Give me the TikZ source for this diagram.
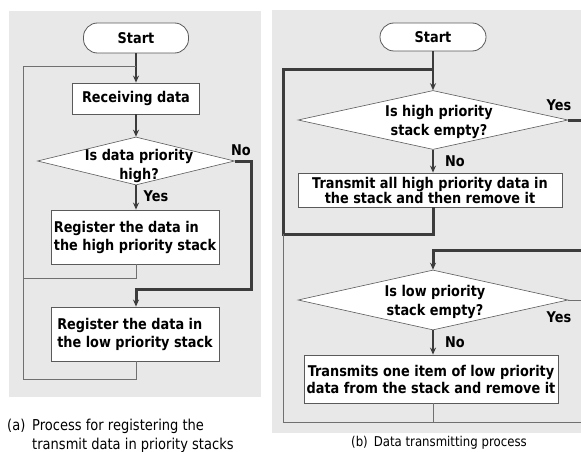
\documentclass[tikz,border=0pt]{standalone}
\usepackage{fontspec}
\setmainfont{DejaVu Sans}[FakeStretch=0.87]
\usetikzlibrary{shapes.geometric,arrows.meta}
\definecolor{panelbg}{HTML}{E8E8E8}
\definecolor{linedark}{HTML}{3C3C3C}
\definecolor{linelight}{HTML}{707070}
\definecolor{edgegray}{HTML}{5A5A5A}
\begin{document}
\begin{tikzpicture}[x=1pt,y=-1pt,
  panel/.style={fill=panelbg,draw=none},
  term/.style={draw=edgegray,fill=white,line width=0.8pt,rounded corners=14pt,inner sep=0pt,font=\bfseries\fontsize{14.8}{16}\selectfont},
  proc/.style={draw=edgegray,fill=white,line width=0.8pt,inner sep=0pt,font=\bfseries\fontsize{14.8}{18}\selectfont},
  dia/.style={diamond,draw=edgegray,fill=white,line width=0.6pt,inner sep=0pt},
  lbl/.style={inner sep=0pt,align=center,font=\bfseries\fontsize{14.8}{18.5}\selectfont},
  captext/.style={inner sep=0pt,align=left,font=\fontsize{15}{19}\selectfont},
  tip/.style={-{Stealth[length=7pt,width=6pt]}},
  flow/.style={draw=linedark,line width=2pt,tip},
  back/.style={draw=linedark,line width=3pt},
  thinline/.style={draw=linelight,line width=0.9pt}]
\useasboundingbox (0,0) rectangle (581,452);
\fill[white] (0,0) rectangle (581,452);

% ---------- (a) registering data ----------
\fill[panel] (9,11) rectangle (261,397);
\node[term,minimum width=105,minimum height=30] (sa) at (136,38) {Start};
\node[proc,minimum width=127,minimum height=31] (recv) at (136,98.5) {Receiving data};
\node[dia,minimum width=197,minimum height=48] (qa) at (136,161) {};
\node[lbl] (qat) at (139,166) {Is data priority\\high?};
\node[proc,minimum width=168,minimum height=54,align=left] (hiA) at (135,237) {Register the data in\\the high priority stack};
\node[proc,minimum width=168,minimum height=54,align=left] (loA) at (135,334) {Register the data in\\the low priority stack};

\coordinate (joinA) at (136,66);
\coordinate (leftA) at (23,379);
\coordinate (midA) at (23,278);
\coordinate (noA) at (251,289);

\draw[flow] (sa.south) -- (recv.north);
\draw[flow] (recv.south) -- (qa.north);
\draw[flow] (qa.south) -- (qa.south |- hiA.north);
\draw[back,tip] (qa.east) -| (noA) -| (qa.south |- loA.north);
\draw[thinline] (qa.south |- hiA.south) |- (midA);
\draw[thinline] (qa.south |- loA.south) |- (leftA) |- (joinA);

\node[lbl] (noLa) at (241,150) {No};
\node[lbl] (yesLa) at (156,196) {Yes};

% ---------- (b) transmitting data ----------
\fill[panel] (272,10) rectangle (590,433);
\node[term,minimum width=106,minimum height=28] (sb) at (433,37) {Start};
\node[dia,minimum width=270,minimum height=59] (qh) at (433,120) {};
\node[lbl] (qht) at (439,122) {Is high priority\\stack empty?};
\node[proc,minimum width=264,minimum height=34,align=center,font=\bfseries\fontsize{14.8}{15}\selectfont] (txh) at (430,190) {Transmit all high priority data in\\the stack and then remove it};
\node[dia,minimum width=270,minimum height=60] (ql) at (433,300) {};
\node[lbl] (qlt) at (435,302) {Is low priority\\stack empty?};
\node[proc,minimum width=254,minimum height=48,align=center,font=\bfseries\fontsize{14.8}{17}\selectfont] (txl) at (431,379) {Transmits one item of low priority\\data from the stack and remove it};

\coordinate (joinB) at (433,70);
\coordinate (leftB) at (283,234);
\coordinate (yesH) at (581,120);
\coordinate (backH) at (581,250);
\coordinate (yesL) at (581,300);
\coordinate (bottomB) at (581,422);

\draw[flow] (sb.south) -- (qh.north);
\draw[back] (txh.south -| sb.south) |- (leftB) |- (joinB);
\draw[back] (qh.east) -- (yesH);
\draw[back,tip] (backH) -| (ql.north);
\draw[thinline] (ql.east) -- (yesL);
\draw[flow] (qh.south) -- (qh.south |- txh.north);
\draw[flow] (ql.south) -- (ql.south |- txl.north);
\draw[thinline] (leftB) |- (bottomB);
\draw[thinline] (ql.south |- txl.south) -- (ql.south |- bottomB);

\node[lbl] (yesLh) at (559,105) {Yes};
\node[lbl] (noLh) at (455,161) {No};
\node[lbl] (yesLl) at (559,317) {Yes};
\node[lbl] (noLl) at (455,342) {No};

% ---------- captions ----------
\node[captext,anchor=north west] (capa) at (7,419) {(a)};
\node[captext,anchor=north west] (capa2) at (32,419) {Process for registering the\\transmit data in priority stacks};
\node[captext,anchor=north west,font=\fontsize{13.5}{15}\selectfont] (capb) at (351,436) {(b)\hspace{6pt}Data transmitting process};
\end{tikzpicture}
\end{document}
